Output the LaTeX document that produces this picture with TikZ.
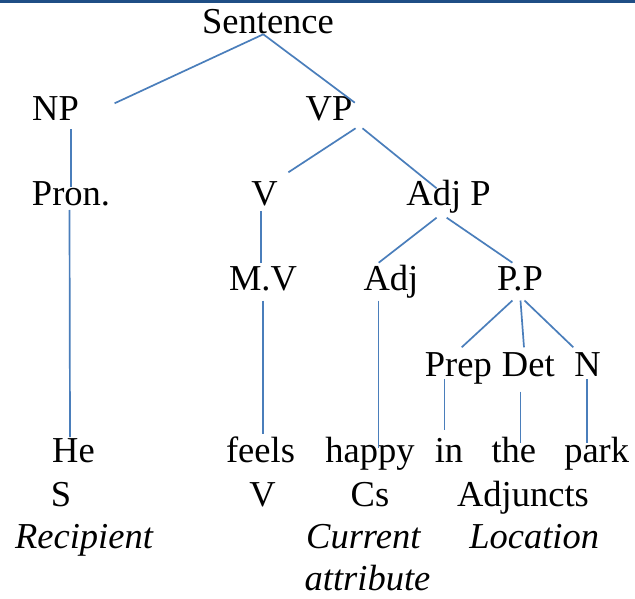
\documentclass[tikz,border=0pt]{standalone}
\usepackage{fontspec}
\setmainfont{Liberation Serif}
\definecolor{branch}{HTML}{4A7EBB}
\definecolor{rulebar}{RGB}{31,78,133}
\begin{document}
\begin{tikzpicture}[x=1pt,y=-1pt,
  lbl/.style={anchor=base,inner sep=0pt,font=\fontsize{36.5}{40}\selectfont},
  role/.style={lbl,font=\fontsize{36.5}{40}\selectfont\itshape},
  edge/.style={draw=branch,line width=1.7pt}]
  % canvas and top rule
  \fill[white] (0,0) rectangle (635,599);
  \useasboundingbox (0,0) rectangle (635,599);
  \fill[rulebar] (0,0) rectangle (635,3);

  % phrase-structure labels
  \node[lbl] (sent) at (268,33.5) {Sentence};
  \node[lbl] (np) at (55.5,120.5) {NP};
  \node[lbl] (vp) at (329,120.5) {VP};
  \node[lbl] (pron) at (71,205) {Pron.};
  \node[lbl] (v) at (264.5,205) {V};
  \node[lbl] (adjp) at (448.5,205) {Adj P};
  \node[lbl] (mv) at (263,290) {M.V};
  \node[lbl] (adj) at (391,290) {Adj};
  \node[lbl] (pp) at (520,290) {P.P};
  \node[lbl] (prep) at (458.3,376.5) {Prep};
  \node[lbl] (det) at (528.3,376.5) {Det};
  \node[lbl] (n) at (587.5,376.5) {N};

  % words of the sentence
  \node[lbl] (he) at (73.5,462.7) {He};
  \node[lbl] (feels) at (260.5,462.7) {feels};
  \node[lbl] (happy) at (370,462.7) {happy};
  \node[lbl] (in) at (449,462.7) {in};
  \node[lbl] (the) at (513.8,462.7) {the};
  \node[lbl] (park) at (596.7,462.7) {park};

  % clause functions
  \node[lbl] (fs) at (61,506) {S};
  \node[lbl] (fv) at (262.5,506) {V};
  \node[lbl] (cs) at (370,506) {Cs};
  \node[lbl] (adjuncts) at (523,506) {Adjuncts};

  % semantic roles
  \node[role] (recipient) at (84,548.3) {Recipient};
  \node[role] (current) at (363.3,548.3) {Current};
  \node[role] (location) at (534.2,548.3) {Location};
  \node[role] (attribute) at (367.5,590) {attribute};

  % branches
  \draw[edge] ([shift={(-4.7,0.8)}]sent.base) -- ([shift={(59.1,-17.2)}]np.base);
  \draw[edge] ([shift={(-4.7,0.8)}]sent.base) -- ([shift={(25.8,-17.8)}]vp.base);
  \draw[edge] ([shift={(15.5,8.8)}]np.base) -- ([shift={(0,-18)}]pron.base);
  \draw[edge] ([shift={(-1.5,5)}]pron.base) -- ([shift={(-3.5,-25.7)}]he.base);
  \draw[edge] ([shift={(26.6,7.8)}]vp.base) -- ([shift={(23.9,-32.7)}]v.base);
  \draw[edge] ([shift={(33.5,7.8)}]vp.base) -- ([shift={(-11.9,-16.7)}]adjp.base);
  \draw[edge] ([shift={(-3.3,6)}]v.base) -- ([shift={(-1.8,-27.3)}]mv.base);
  \draw[edge] ([shift={(-11.9,12.7)}]adjp.base) -- ([shift={(-12.3,-27.3)}]adj.base);
  \draw[edge] ([shift={(-1.8,12.7)}]adjp.base) -- ([shift={(-7.6,-27.3)}]pp.base);
  \draw[edge] ([shift={(0,10.7)}]mv.base) -- ([shift={(2.5,-28.7)}]feels.base);
  \draw[edge] ([shift={(-12.5,10.7)}]adj.base) -- ([shift={(8.5,-14.7)}]happy.base);
  \draw[edge] ([shift={(-7.6,10.5)}]pp.base) -- ([shift={(3.4,-29.2)}]prep.base);
  \draw[edge] ([shift={(0.5,10.5)}]pp.base) -- ([shift={(-4.3,-29.2)}]det.base);
  \draw[edge] ([shift={(4.5,10.5)}]pp.base) -- ([shift={(-14.2,-29.2)}]n.base);
  \draw[edge] ([shift={(-13.8,2.8)}]prep.base) -- ([shift={(-4.5,-32.7)}]in.base);
  \draw[edge] ([shift={(-7.8,15.2)}]det.base) -- ([shift={(6.7,-19.7)}]the.base);
  \draw[edge] ([shift={(-0.8,2.8)}]n.base) -- ([shift={(-10,-19.7)}]park.base);
\end{tikzpicture}
\end{document}
